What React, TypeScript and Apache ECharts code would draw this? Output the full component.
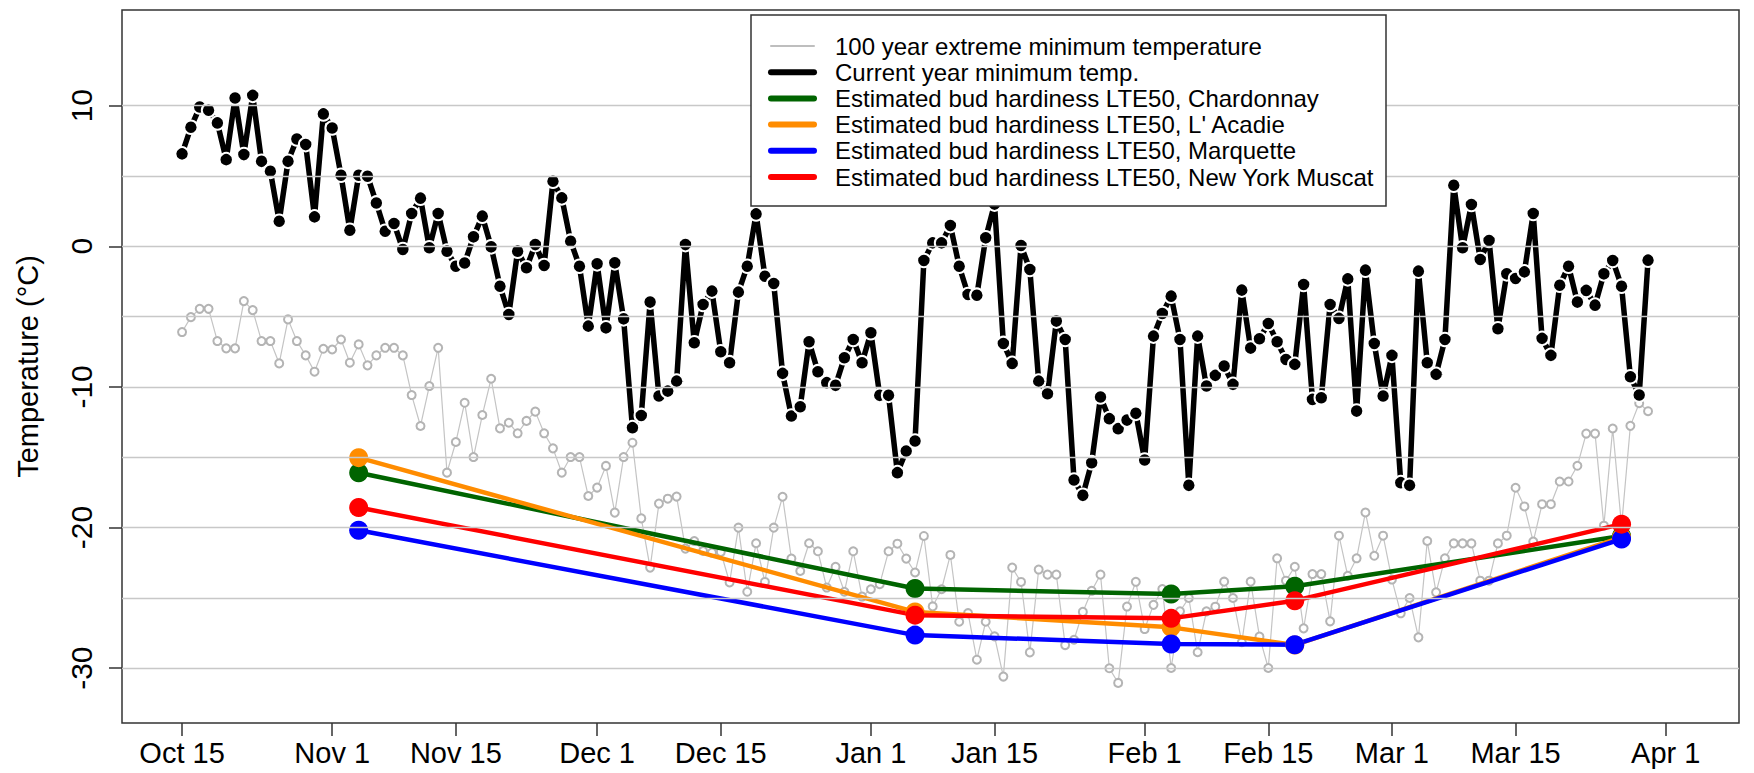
import React, { useEffect, useRef } from "react";
import * as echarts from "echarts";

// x positions are days counted from Oct 15
const tickDays = [0, 17, 31, 47, 61, 78, 92, 109, 123, 137, 151, 168];
const tickLabels = ["Oct 15", "Nov 1", "Nov 15", "Dec 1", "Dec 15", "Jan 1", "Jan 15", "Feb 1", "Feb 15", "Mar 1", "Mar 15", "Apr 1"];
const yTickValues = [-30, -20, -10, 0, 10];
const gridLevels = [-30, -25, -20, -15, -10, -5, 0, 5, 10];

// Current year minimum temperature, daily from Oct 15
const currentMin = [
  6.57, 8.46, 9.9, 9.67, 8.77, 6.16, 10.54, 6.52, 10.73, 6.04,
  5.33, 1.78, 6.04, 7.63, 7.23, 2.09, 9.41, 8.41, 5.05, 1.14,
  5.05, 4.98, 3.08, 1.07, 1.62, -0.23, 2.33, 3.42, -0.11, 2.33,
  -0.35, -1.42, -1.19, 0.67, 2.14, -0.04, -2.84, -4.85, -0.35, -1.53,
  0.12, -1.37, 4.62, 3.44, 0.36, -1.42, -5.68, -1.25, -5.8, -1.18,
  -5.16, -12.9, -12.03, -3.97, -10.65, -10.3, -9.59, 0.12, -6.86, -4.14,
  -3.19, -7.5, -8.28, -3.26, -1.42, 2.3, -2.13, -2.65, -9.04, -12.07,
  -11.41, -6.79, -8.92, -9.7, -9.89, -7.93, -6.63, -8.28, -6.15, -10.6,
  -10.6, -16.1, -14.56, -13.85, -1.01, 0.24, 0.24, 1.47, -1.42, -3.43,
  -3.48, 0.6, 3.0, -6.91, -8.33, 0.05, -1.65, -9.59, -10.49, -5.32,
  -6.63, -16.62, -17.71, -15.39, -10.72, -12.26, -12.97, -12.36, -11.88, -15.2,
  -6.39, -4.78, -3.55, -6.63, -17.0, -6.39, -9.94, -9.18, -8.52, -9.82,
  -3.12, -7.24, -6.58, -5.49, -6.79, -8.05, -8.4, -2.72, -10.89, -10.77,
  -4.14, -5.13, -2.32, -11.72, -1.7, -6.91, -10.65, -7.76, -16.81, -17.0,
  -1.77, -8.28, -9.11, -6.63, 4.34, -0.11, 2.97, -0.94, 0.41, -5.87,
  -1.96, -2.29, -1.82, 2.33, -6.55, -7.76, -2.77, -1.42, -3.97, -3.14,
  -4.19, -1.96, -1.01, -2.84, -9.28, -10.58, -0.99
];

// 100 year extreme minimum temperature, daily from Oct 15
const extremeMin = [
  -6.1, -5.04, -4.45, -4.45, -6.74, -7.26, -7.26, -3.9, -4.54, -6.74,
  -6.74, -8.33, -5.2, -6.74, -7.76, -8.92, -7.29, -7.34, -6.63, -8.28,
  -6.98, -8.47, -7.76, -7.22, -7.22, -7.76, -10.58, -12.78, -9.94, -7.22,
  -16.1, -13.92, -11.13, -14.99, -12.0, -9.42, -12.95, -12.55, -13.3, -12.42,
  -11.76, -13.3, -14.37, -16.1, -14.99, -14.99, -17.76, -17.16, -15.62, -18.94,
  -14.99, -13.97, -19.35, -22.85, -18.3, -17.95, -17.8, -21.5, -20.96, -21.67,
  -21.78, -21.74, -23.91, -20.01, -24.57, -21.12, -23.87, -20.01, -17.81, -22.21,
  -23.09, -21.12, -21.69, -24.27, -22.8, -24.57, -21.69, -24.91, -24.39, -24.03,
  -21.69, -21.15, -22.21, -23.2, -20.6, -25.61, -24.39, -21.95, -26.7, -26.09,
  -29.4, -26.7, -27.74, -30.6, -22.85, -23.87, -28.88, -22.99, -23.35, -23.35,
  -28.36, -27.98, -26.0, -24.5, -23.35, -30.01, -31.05, -25.62, -23.86, -27.22,
  -25.5, -24.37, -29.99, -25.96, -25.01, -28.87, -25.96, -25.63, -23.85, -25.01,
  -28.16, -23.85, -27.76, -29.99, -22.19, -23.78, -22.79, -27.17, -23.31, -23.31,
  -26.67, -20.58, -23.43, -22.19, -18.93, -22.01, -20.58, -23.7, -26.1, -25.01,
  -27.81, -20.96, -24.61, -22.19, -21.13, -21.13, -21.13, -23.78, -23.78, -21.13,
  -20.58, -17.17, -18.5, -21.0, -18.34, -18.34, -16.73, -16.73, -15.61, -13.32,
  -13.32, -19.87, -12.96, -19.9, -12.77, -11.16, -11.73
];

// Estimated bud hardiness LTE50 (days from Oct 15)
const lteDays = [20, 83, 112, 126, 163];
const lteChardonnay = [-16.1, -24.34, -24.73, -24.18, -20.6];
const lteLAcadie = [-15.03, -26.0, -27.1, -28.35, -20.7];
const lteMarquette = [-20.2, -27.65, -28.28, -28.33, -20.82];
const lteNewYorkMuscat = [-18.58, -26.23, -26.46, -25.2, -19.76];

const legendLabels = [
  "100 year extreme minimum temperature",
  "Current year minimum temp.",
  "Estimated bud hardiness LTE50, Chardonnay",
  "Estimated bud hardiness LTE50, L' Acadie",
  "Estimated bud hardiness LTE50, Marquette",
  "Estimated bud hardiness LTE50, New York Muscat",
];
const seriesColors = ["#bebebe", "#000000", "#006400", "#ff8c00", "#0000ff", "#ff0000"];

const FONT = "'Liberation Sans', Arial, sans-serif";

export default function App() {
  const ref = useRef<HTMLDivElement>(null);

  useEffect(() => {
    if (!ref.current) return;
    const chart = echarts.init(ref.current, null, { renderer: "svg" });

    const daily = (vals: number[]) => vals.map((v, i) => [i, v]);
    const lte = (vals: number[]) => lteDays.map((d, i) => [d, vals[i]]);

    const lteSeries = [lteChardonnay, lteLAcadie, lteMarquette, lteNewYorkMuscat].map((vals, k) => ({
      name: legendLabels[k + 2],
      type: "line",
      data: lte(vals),
      symbol: "circle",
      symbolSize: 19,
      itemStyle: { color: seriesColors[k + 2] },
      lineStyle: { color: seriesColors[k + 2], width: 4.5 },
      z: 4,
      emphasis: { disabled: true },
    }));

    const legendElements: any[] = [
      {
        type: "rect",
        z: 100,
        shape: { x: 751, y: 15, width: 635, height: 191 },
        style: { fill: "#ffffff", stroke: "#333333", lineWidth: 1.5 },
      },
    ];
    legendLabels.forEach((label, i) => {
      const y = 46 + i * 26.2;
      legendElements.push({
        type: "line",
        z: 101,
        shape: { x1: 771, y1: y, x2: 814, y2: y },
        style: { stroke: seriesColors[i], lineWidth: i === 0 ? 2 : 6, lineCap: "round" },
      });
      legendElements.push({
        type: "text",
        z: 101,
        x: 835,
        y: y,
        style: {
          text: label,
          fontSize: 24,
          fontFamily: FONT,
          fill: "#000000",
          verticalAlign: "middle",
          align: "left",
        },
      });
    });

    const option: any = {
      animation: false,
      backgroundColor: "#ffffff",
      textStyle: { fontFamily: FONT },
      grid: {
        left: 122,
        right: 15,
        top: 10,
        bottom: 50,
        show: true,
        borderColor: "#333333",
        borderWidth: 1.5,
        backgroundColor: "transparent",
        containLabel: false,
      },
      xAxis: {
        type: "value",
        position: "bottom",
        min: -6.8,
        max: 176.3,
        axisLine: { show: false, onZero: false },
        splitLine: { show: false },
        axisTick: {
          show: true,
          customValues: tickDays,
          length: 13,
          inside: false,
          lineStyle: { color: "#333333", width: 1.5 },
        },
        axisLabel: {
          customValues: tickDays,
          fontSize: 29,
          color: "#000000",
          margin: 15,
          fontFamily: FONT,
          formatter: (v: number) => {
            const idx = tickDays.indexOf(Math.round(v));
            return idx >= 0 ? tickLabels[idx] : "";
          },
        },
      },
      yAxis: {
        type: "value",
        position: "left",
        min: -33.9,
        max: 16.8,
        name: "Temperature (°C)",
        nameLocation: "middle",
        nameGap: 80,
        nameTextStyle: { fontSize: 29, color: "#000000", fontFamily: FONT },
        axisLine: { show: false, onZero: false },
        splitLine: { show: false },
        axisTick: {
          show: true,
          customValues: yTickValues,
          length: 13,
          inside: false,
          lineStyle: { color: "#333333", width: 1.5 },
        },
        axisLabel: {
          customValues: yTickValues,
          rotate: 90,
          fontSize: 30,
          color: "#000000",
          margin: 26,
          fontFamily: FONT,
          formatter: (v: number) => String(Math.round(v)),
        },
      },
      graphic: { elements: legendElements },
      series: [
        {
          name: legendLabels[0],
          type: "line",
          data: daily(extremeMin),
          symbol: "emptyCircle",
          symbolSize: 8,
          itemStyle: { color: "#b4b4b4", borderWidth: 1.2 },
          lineStyle: { color: "#c4c4c4", width: 1.2 },
          z: 2,
          emphasis: { disabled: true },
          markLine: {
            silent: true,
            symbol: ["none", "none"],
            label: { show: false },
            lineStyle: { color: "#c8c8c8", width: 1.3, type: "solid" },
            emphasis: { disabled: true },
            data: gridLevels.map((v) => ({ yAxis: v })),
          },
        },
        {
          name: legendLabels[1],
          type: "line",
          data: daily(currentMin),
          symbol: "circle",
          symbolSize: 13.5,
          itemStyle: { color: "#000000", borderColor: "#ffffff", borderWidth: 2 },
          lineStyle: { color: "#000000", width: 5.5 },
          z: 3,
          emphasis: { disabled: true },
        },
        ...lteSeries,
      ],
    };

    chart.setOption(option);
    return () => chart.dispose();
  }, []);

  return (
    <div
      ref={ref}
      style={{ position: "fixed", left: 0, top: 0, width: 1754, height: 773, background: "#ffffff" }}
    />
  );
}
